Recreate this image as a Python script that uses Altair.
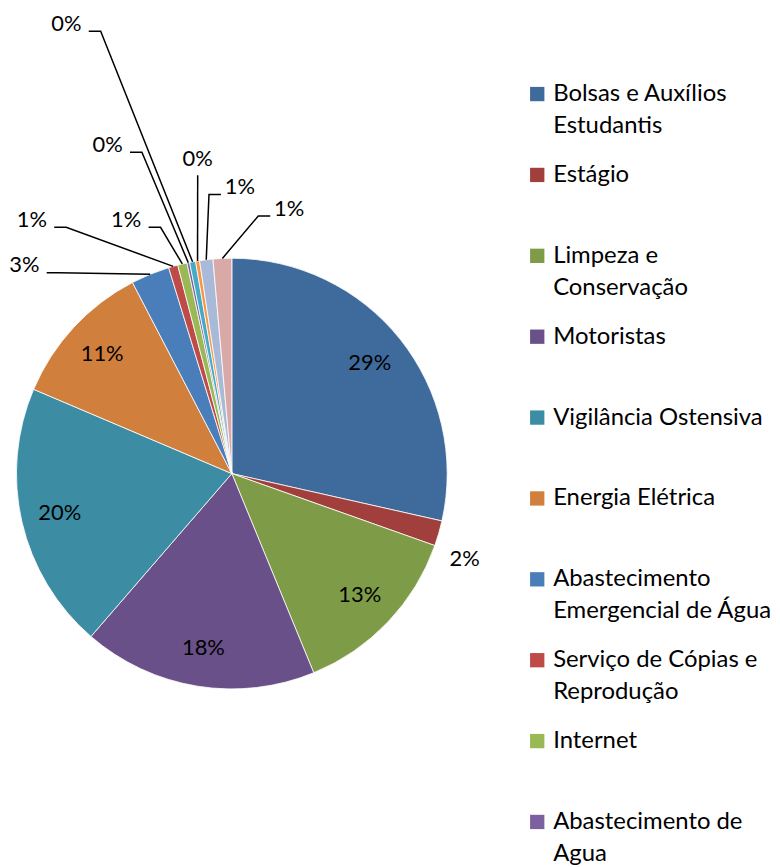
import math
import json
import altair as alt
import pandas as pd

# ---------------- data ----------------
categories = [
    "Bolsas e Auxílios Estudantis",
    "Estágio",
    "Limpeza e Conservação",
    "Motoristas",
    "Vigilância Ostensiva",
    "Energia Elétrica",
    "Abastecimento Emergencial de Água",
    "Serviço de Cópias e Reprodução",
    "Internet",
    "Abastecimento de Agua",
    "Telefonia",
    "Correios",
    "Combustíveis",
    "Manutenção Predial",
]
values = [28.6, 1.9, 13.4, 17.6, 20.1, 11.0, 2.9, 0.7, 0.7, 0.2, 0.45, 0.3, 1.0, 1.4]
colors = [
    "#3F6A9C", "#A13F3C", "#7E9B48", "#6A5088", "#3C8CA4", "#D07F3C",
    "#4A7EBB", "#BE4B48", "#98B954", "#7D60A0", "#46AAC5", "#F79646",
    "#A9BAD8", "#D9A9A8",
]
legend_lines = [
    ["Bolsas e Auxílios", "Estudantis"],
    ["Estágio"],
    ["Limpeza e", "Conservação"],
    ["Motoristas"],
    ["Vigilância Ostensiva"],
    ["Energia Elétrica"],
    ["Abastecimento", "Emergencial de Água"],
    ["Serviço de Cópias e", "Reprodução"],
    ["Internet"],
    ["Abastecimento de", "Agua"],
    ["Telefonia"],
    ["Correios"],
    ["Combustíveis"],
    ["Manutenção Predial"],
]

# ---------------- layout (not data) ----------------
W, H = 450, 930
R = 216.5
INSIDE = 0.82
# outside label placement: slice index -> (angle deg clockwise from top, radius factor)
outside = {
    1: (110.2, 1.152),
    6: (315.1, 1.365),
    7: (321.75, 1.50),
    8: (337.4, 1.276),
    9: (339.3, 1.632),
    10: (339.8, 2.225),
    11: (353.8, 1.468),
    12: (1.6, 1.331),
    13: (12.2, 1.259),
}
leader = [6, 7, 8, 9, 10, 11, 12, 13]

total = sum(values)
mids = []
c = 0.0
for v in values:
    mids.append((c + v / 2) / total * 360.0)
    c += v


def pt(ang, rad):
    a = math.radians(ang)
    return rad * math.sin(a), rad * math.cos(a)


df = pd.DataFrame({"category": categories, "value": values, "idx": range(len(values))})

lab_rows = []
for i, v in enumerate(values):
    if i in outside:
        ang, f = outside[i]
    else:
        ang, f = mids[i], INSIDE
    x, y = pt(ang, f * R)
    lab_rows.append({"lx": x, "ly": y, "label": f"{round(v / total * 100)}%", "i": i})
labels_df = pd.DataFrame(lab_rows)

line_rows = []
HW = 15.5
for i in leader:
    lx, ly = lab_rows[i]["lx"], lab_rows[i]["ly"]
    ex, ey = pt(mids[i], R)
    if abs(lx - ex) < 8:
        pts = [(lx, ly - 16), (ex, ey)]
    elif lx < ex:
        sx = lx + HW + 7
        pts = [(sx, ly - 7.5), (sx + 12, ly - 7.5), (ex, ey)]
    else:
        sx = lx - HW - 3.5
        pts = [(sx, ly - 7.5), (sx - 12, ly - 7.5), (ex, ey)]
    for k, (px, py) in enumerate(pts):
        line_rows.append({"lid": i, "pt": k, "px": px, "py": py})
lines_df = pd.DataFrame(line_rows)

xscale = alt.Scale(domain=[-W / 2, W / 2])
yscale = alt.Scale(domain=[-H / 2, H / 2])

label_map = {c: l for c, l in zip(categories, legend_lines)}

arcs = alt.Chart(df).mark_arc(outerRadius=R, stroke="white", strokeWidth=0.8).encode(
    theta=alt.Theta("value:Q", stack=True),
    order=alt.Order("idx:Q"),
    color=alt.Color(
        "category:N",
        sort=categories,
        scale=alt.Scale(domain=categories, range=colors),
        legend=alt.Legend(
            title=None,
            orient="none",
            legendX=520,
            legendY=71.5,
            symbolType="square",
            symbolSize=207,
            symbolStrokeWidth=0,
            labelFont="Lato",
            labelFontSize=24,
            labelColor="black",
            labelLimit=600,
            labelOffset=4,
            gridAlign="all",
            rowPadding=25.3,
            labelExpr=json.dumps(label_map, ensure_ascii=False) + "[datum.label]",
        ),
    ),
)

lines = alt.Chart(lines_df).mark_line(color="black", strokeWidth=1.5).encode(
    x=alt.X("px:Q", scale=xscale, axis=None),
    y=alt.Y("py:Q", scale=yscale, axis=None),
    detail="lid:N",
    order="pt:Q",
)

texts = alt.Chart(labels_df).mark_text(font="Lato", fontSize=22, color="black").encode(
    x=alt.X("lx:Q", scale=xscale, axis=None),
    y=alt.Y("ly:Q", scale=yscale, axis=None),
    text="label:N",
)

chart = (
    alt.layer(arcs, lines, texts)
    .properties(width=W, height=H, padding=0)
    .configure(style={"guide-label": {"lineHeight": 32}})
    .configure_view(stroke=None)
)

chart.save("out.html", embed_options={"renderer": "svg", "actions": False})
